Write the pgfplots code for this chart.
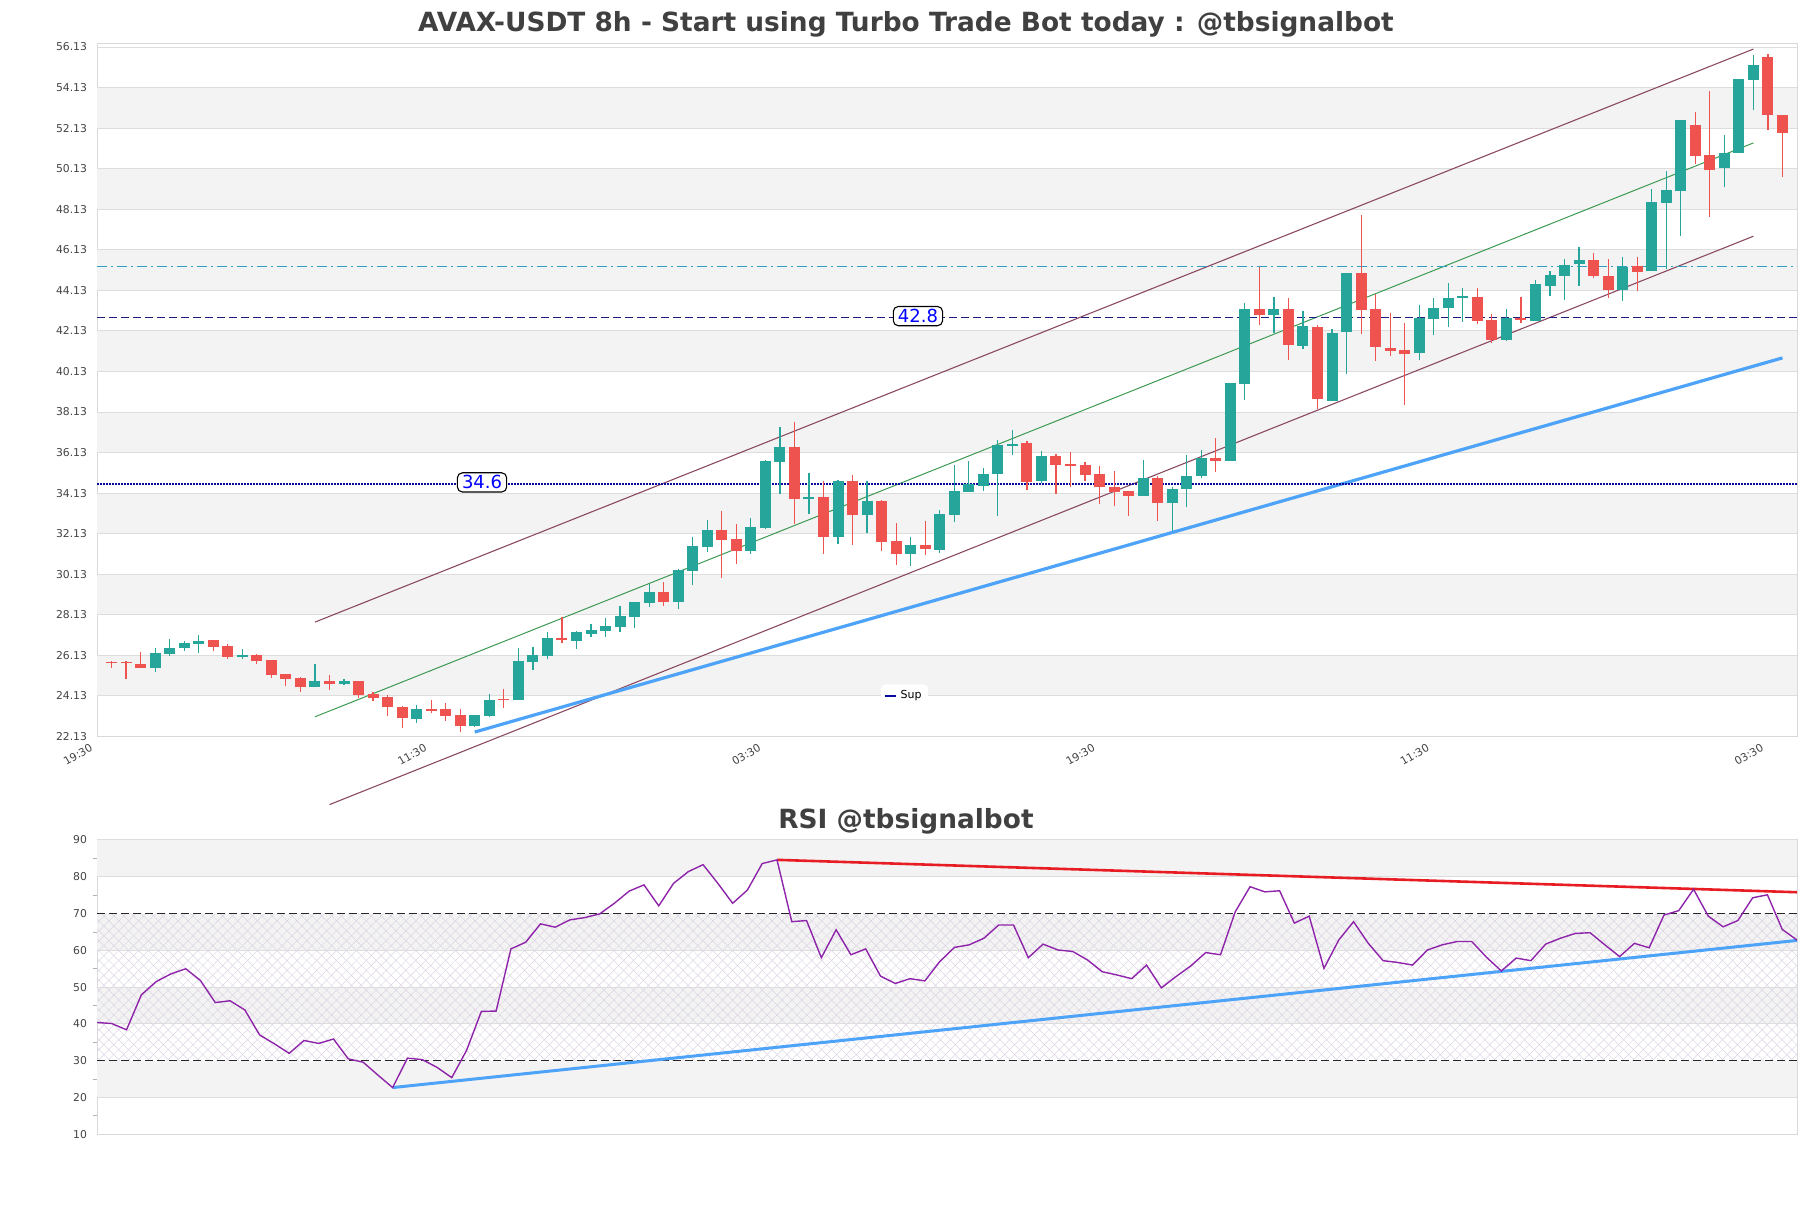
\documentclass[border=0pt]{standalone}
\usepackage{fontspec}
\setmainfont{DejaVu Sans}
\usepackage{pgfplots}
\usepackage{pgfplotstable}
\pgfplotsset{compat=1.18}
\usetikzlibrary{patterns.meta}

\definecolor{upc}{HTML}{26A69A}
\definecolor{downc}{HTML}{EF5350}
\definecolor{titlec}{HTML}{404040}
\definecolor{tickc}{HTML}{444444}
\definecolor{gridc}{HTML}{DDDDDD}
\definecolor{bandc}{HTML}{F3F3F3}
\definecolor{chanc}{HTML}{8B4A62}
\definecolor{midc}{HTML}{3C9A52}
\definecolor{supc}{HTML}{4DA3F7}
\definecolor{dotc}{HTML}{0A0AA0}
\definecolor{dashc}{HTML}{1E1E82}
\definecolor{cyanc}{HTML}{2EA0C4}
\definecolor{rsic}{HTML}{8E24AA}
\definecolor{redc}{HTML}{E81C23}
\definecolor{hatchc}{HTML}{DDD4E4}

% 8h candles (index i = bar number), rising bars
\pgfplotstableread{
i o h l c
3 25.52 26.47 25.32 26.24
4 26.21 26.92 26.11 26.47
5 26.51 26.83 26.34 26.74
6 26.70 27.13 26.26 26.83
9 26.06 26.42 25.97 26.13
14 24.58 25.70 24.55 24.86
16 24.73 24.98 24.67 24.86
21 23.01 23.67 22.81 23.47
25 22.65 23.17 22.60 23.17
26 23.14 24.22 23.07 23.93
28 23.93 26.47 23.93 25.85
29 25.82 26.55 25.40 26.14
30 26.11 27.29 25.95 26.98
32 26.85 27.32 26.44 27.28
33 27.20 27.70 27.05 27.38
34 27.34 27.97 27.05 27.57
35 27.54 28.56 27.29 28.07
36 28.03 28.78 27.46 28.75
37 28.72 29.64 28.52 29.25
39 28.77 30.41 28.41 30.36
40 30.30 31.97 29.59 31.51
41 31.48 32.80 31.24 32.30
44 31.28 32.91 31.15 32.45
45 32.40 35.75 32.35 35.70
46 35.67 37.39 34.08 36.39
48 33.85 35.13 33.12 33.92
50 31.97 34.77 31.61 34.72
52 33.06 34.72 32.17 33.73
55 31.14 31.97 30.55 31.56
57 31.32 33.29 31.18 33.09
58 33.06 35.50 32.71 34.24
59 34.19 35.70 34.19 34.60
60 34.49 35.37 34.24 35.06
61 35.06 36.77 33.01 36.49
62 36.47 37.23 36.03 36.55
64 34.75 36.19 34.63 35.96
71 34.00 35.76 34.00 34.88
73 33.63 34.42 32.28 34.33
74 34.33 36.01 33.43 34.98
75 34.98 36.27 34.86 35.86
77 35.73 39.56 35.73 39.56
78 39.51 43.53 38.73 43.20
80 42.92 43.78 42.05 43.20
82 41.39 43.12 41.26 42.36
84 38.68 42.21 38.68 42.05
85 42.08 45.00 39.99 44.97
90 41.03 43.39 40.70 42.75
91 42.72 43.74 41.92 43.28
92 43.25 44.48 42.33 43.77
93 43.77 44.26 42.57 43.83
96 41.69 43.23 41.64 42.79
98 42.62 44.63 42.62 44.43
99 44.35 45.08 43.85 44.87
100 44.84 45.66 43.66 45.40
101 45.43 46.28 44.35 45.61
104 44.15 45.79 43.61 45.30
106 45.08 49.14 45.08 48.50
107 48.45 50.04 45.17 49.09
108 49.01 52.51 46.80 52.51
111 50.18 51.77 49.22 50.91
112 50.88 54.53 50.88 54.53
113 54.50 55.76 53.02 55.22
}\upbars

% falling bars
\pgfplotstableread{
i o h l c
0 25.80 25.87 25.52 25.73
1 25.78 25.85 24.96 25.73
2 25.68 26.29 25.52 25.52
7 26.88 26.88 26.34 26.56
8 26.59 26.67 25.97 26.05
10 26.15 26.20 25.72 25.85
11 25.90 25.90 25.03 25.16
12 25.21 25.21 24.62 24.96
13 24.99 25.04 24.34 24.58
15 24.86 25.16 24.42 24.73
17 24.86 24.86 24.04 24.17
18 24.22 24.30 23.90 24.04
19 24.06 24.17 23.14 23.57
20 23.60 23.63 22.55 23.03
22 23.48 23.93 23.27 23.40
23 23.47 23.76 22.91 23.16
24 23.17 23.47 22.33 22.65
27 23.99 24.45 23.55 23.93
31 26.97 28.00 26.72 26.91
38 29.25 29.76 28.56 28.77
42 32.30 33.24 29.97 31.84
43 31.86 32.60 30.66 31.28
47 36.39 37.64 32.60 33.85
49 33.93 34.72 31.12 31.97
51 34.72 35.01 31.58 33.06
53 33.73 33.78 31.28 31.73
54 31.76 32.68 30.61 31.14
56 31.56 32.75 31.10 31.38
63 36.60 36.68 34.30 34.70
65 35.96 36.06 34.09 35.53
66 35.55 36.14 34.42 35.48
67 35.52 35.65 34.74 35.04
68 35.07 35.48 33.60 34.42
69 34.42 35.20 33.51 34.20
70 34.22 34.22 33.02 34.00
72 34.88 34.99 32.77 33.63
76 35.86 36.85 35.19 35.73
79 43.20 45.30 42.43 42.92
81 43.20 43.73 40.71 41.44
83 42.33 42.40 38.27 38.76
86 45.00 47.87 41.97 43.16
87 43.23 43.94 40.65 41.34
88 41.31 43.00 40.90 41.14
89 41.18 42.51 38.47 40.98
94 43.82 44.26 42.46 42.62
95 42.65 42.98 41.51 41.69
97 42.79 43.82 42.54 42.67
102 45.61 45.96 44.76 44.84
103 44.84 45.69 43.77 44.15
105 45.35 45.79 44.10 45.03
109 52.26 52.92 50.34 50.78
110 50.82 53.95 47.76 50.06
114 55.66 55.81 52.03 52.77
115 52.79 52.79 49.72 51.88
}\downbars

\pgfplotstableread{
i v
0 40.4
1 40.1
2 38.4
3 47.9
4 51.5
5 53.6
6 55.0
7 51.8
8 45.8
9 46.3
10 43.8
11 37.0
12 34.6
13 32.0
14 35.5
15 34.7
16 35.9
17 30.5
18 29.6
19 26.1
20 22.7
21 30.7
22 30.3
23 28.2
24 25.4
25 32.8
26 43.4
27 43.5
28 60.4
29 62.2
30 67.2
31 66.3
32 68.3
33 68.9
34 69.9
35 72.8
36 76.1
37 77.8
38 72.1
39 78.2
40 81.4
41 83.3
42 78.2
43 72.8
44 76.4
45 83.6
46 84.6
47 67.8
48 68.1
49 58.0
50 65.6
51 58.8
52 60.4
53 53.0
54 51.0
55 52.3
56 51.7
57 56.9
58 60.8
59 61.5
60 63.3
61 66.9
62 66.9
63 58.0
64 61.7
65 60.1
66 59.7
67 57.4
68 54.2
69 53.3
70 52.3
71 56.0
72 49.8
73 52.9
74 55.8
75 59.4
76 58.8
77 70.5
78 77.3
79 75.9
80 76.2
81 67.4
82 69.3
83 55.1
84 62.8
85 67.8
86 61.9
87 57.2
88 56.7
89 56.0
90 60.1
91 61.5
92 62.4
93 62.4
94 58.1
95 54.4
96 57.9
97 57.2
98 61.7
99 63.3
100 64.6
101 64.8
102 61.5
103 58.3
104 61.9
105 60.7
106 69.6
107 70.8
108 76.6
109 69.3
110 66.4
111 68.1
112 74.3
113 75.1
114 65.7
115 62.8
}\rsi

\pgfplotsset{
  panel/.style={
    scale only axis, width=850pt,
    axis line style={draw=gray!30, line width=0.5pt},
    major tick length=0pt, tick align=outside,
    ytick pos=left, xtick pos=bottom,
    ticklabel style={font=\fontsize{5.4}{6}\selectfont, text=tickc},
    /pgf/number format/assume math mode=true,
  },
  candle/.style 2 args={draw=none, mark=none, forget plot,
    error bars/.cd, y dir=plus, y explicit, error mark=none,
    error bar style={solid, line width=#1, draw=#2}},
}
\tikzset{
  lbl/.style={draw=black, line width=0.55pt, fill=white, rounded corners=2.5pt,
    inner xsep=2.3pt, inner ysep=1.4pt, text=blue, font=\fontsize{9}{10}\selectfont},
  gl/.style={draw=gridc, line width=0.5pt},
}

\begin{document}
\begin{tikzpicture}
\path[use as bounding box] (0pt,0pt) rectangle (905.5pt,604pt);

\node[font=\bfseries\fontsize{13.2}{15}\selectfont, text=titlec] at (453pt,591.8pt)
  {AVAX-USDT 8h - Start using Turbo Trade Bot today : @tbsignalbot};
\node[font=\bfseries\fontsize{13.2}{15}\selectfont, text=titlec] at (453pt,193.5pt)
  {RSI @tbsignalbot};

% price panel
\begin{axis}[panel,
  at={(48.5pt,235.75pt)}, anchor=south west, height=346.25pt,
  xmin=-1, xmax=116, ymin=22.13, ymax=56.28, clip=false,
  ytick={22.13,24.13,26.13,28.13,30.13,32.13,34.13,36.13,38.13,40.13,42.13,44.13,46.13,48.13,50.13,52.13,54.13,56.13},
  yticklabel style={/pgf/number format/fixed, /pgf/number format/fixed zerofill,
    /pgf/number format/precision=2, xshift=-1.5pt},
  xtick={-1,22,45,68,91,114},
  xticklabels={19:30,11:30,03:30,19:30,11:30,03:30},
  xticklabel style={rotate=30, anchor=north east, yshift=2.5pt, xshift=-1.5pt},
  legend style={at={(0.475,0.058)}, anchor=center, draw=none, fill=white,
    rounded corners=2pt, font=\fontsize{5.5}{6.5}\selectfont, inner sep=1.2pt},
  legend image code/.code={\draw[#1] (0pt,0pt) -- (5.5pt,0pt);},
]
% background bands and grid
\fill[bandc] (axis cs:-1,24.13) rectangle (axis cs:116,26.13);
\fill[bandc] (axis cs:-1,28.13) rectangle (axis cs:116,30.13);
\fill[bandc] (axis cs:-1,32.13) rectangle (axis cs:116,34.13);
\fill[bandc] (axis cs:-1,36.13) rectangle (axis cs:116,38.13);
\fill[bandc] (axis cs:-1,40.13) rectangle (axis cs:116,42.13);
\fill[bandc] (axis cs:-1,44.13) rectangle (axis cs:116,46.13);
\fill[bandc] (axis cs:-1,48.13) rectangle (axis cs:116,50.13);
\fill[bandc] (axis cs:-1,52.13) rectangle (axis cs:116,54.13);
\pgfplotsinvokeforeach{24.13,26.13,28.13,30.13,32.13,34.13,36.13,38.13,40.13,42.13,44.13,46.13,48.13,50.13,52.13,54.13,56.13}{
  \draw[gl] (axis cs:-1,#1) -- (axis cs:116,#1);
}

% channel
\addplot[forget plot, chanc, line width=0.55pt] coordinates {(14,27.77) (113,56.03)};
\addplot[forget plot, chanc, line width=0.55pt] coordinates {(15,18.77) (113,46.80)};
\addplot[forget plot, midc, line width=0.5pt] coordinates {(14,23.10) (113,51.40)};
% support trend
\addplot[forget plot, supc, line width=1.6pt] coordinates {(25,22.35) (115,40.80)};

% levels
\addplot[forget plot, cyanc, line width=0.6pt, dash pattern=on 5pt off 2pt on 1pt off 2pt]
  coordinates {(-1,45.30) (116,45.30)};
\addplot[forget plot, dashc, line width=0.8pt, dash pattern=on 4pt off 2pt]
  coordinates {(-1,42.80) (116,42.80)};
\addplot[forget plot, dotc, line width=1.1pt, dash pattern=on 0.8pt off 0.7pt]
  coordinates {(-1,34.60) (116,34.60)};

% wicks and bodies
\addplot[candle={0.6pt}{upc}]
  table[x=i, y=l, y error plus expr=\thisrow{h}-\thisrow{l}] {\upbars};
\addplot[candle={0.6pt}{downc}]
  table[x=i, y=l, y error plus expr=\thisrow{h}-\thisrow{l}] {\downbars};
\addplot[candle={5.5pt}{upc}]
  table[x=i, y=o, y error plus expr=\thisrow{c}-\thisrow{o}] {\upbars};
\addplot[candle={5.5pt}{downc}]
  table[x=i, y=c, y error plus expr=\thisrow{o}-\thisrow{c}] {\downbars};

\node[lbl] at (axis cs:25.5,34.66) {34.6};
\node[lbl] at (axis cs:55.5,42.86) {42.8};

\addlegendimage{dotc, line width=1pt}
\addlegendentry{Sup}
\end{axis}

% RSI panel
\begin{axis}[panel,
  at={(48.5pt,36.85pt)}, anchor=south west, height=147.15pt,
  xmin=0, xmax=115, ymin=10, ymax=90,
  ytick={10,20,...,90}, xtick=\empty,
  minor y tick num=1, minor tick length=2pt,
  minor tick style={draw=gray!60, line width=0.4pt},
  yticklabel style={xshift=-1.5pt},
]
\fill[bandc] (axis cs:0,20) rectangle (axis cs:115,30);
\fill[bandc] (axis cs:0,40) rectangle (axis cs:115,50);
\fill[bandc] (axis cs:0,60) rectangle (axis cs:115,70);
\fill[bandc] (axis cs:0,80) rectangle (axis cs:115,90);
\fill[pattern={Lines[angle=45,distance=3.5pt,line width=0.25pt]}, pattern color=hatchc]
  (axis cs:0,30) rectangle (axis cs:115,70);
\fill[pattern={Lines[angle=-45,distance=3.5pt,line width=0.25pt]}, pattern color=hatchc]
  (axis cs:0,30) rectangle (axis cs:115,70);
\pgfplotsinvokeforeach{20,40,50,60,80,90}{
  \draw[gl] (axis cs:0,#1) -- (axis cs:115,#1);
}
\addplot[forget plot, black!85, line width=0.6pt, dash pattern=on 4pt off 2pt]
  coordinates {(0,30) (115,30)};
\addplot[forget plot, black!85, line width=0.6pt, dash pattern=on 4pt off 2pt]
  coordinates {(0,70) (115,70)};
\addplot[forget plot, redc, line width=1.3pt] coordinates {(46,84.6) (115,75.8)};
\addplot[forget plot, supc, line width=1.5pt] coordinates {(20,22.7) (115,62.7)};
\addplot[forget plot, rsic, line width=0.7pt] table[x=i, y=v] {\rsi};
\end{axis}
\end{tikzpicture}
\end{document}
